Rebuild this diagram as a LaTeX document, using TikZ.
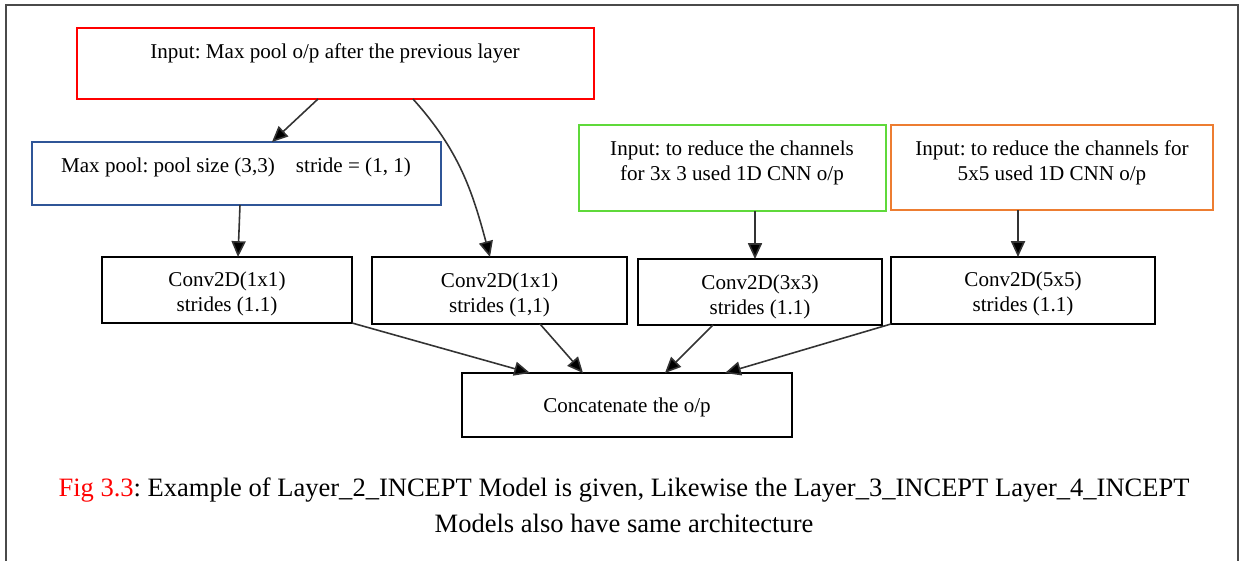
\documentclass[tikz,border=0pt]{standalone}
\usepackage{fontspec}
\setmainfont{Liberation Serif}
\usetikzlibrary{arrows.meta}
\frenchspacing
\definecolor{cred}{HTML}{FF0000}
\definecolor{cblue}{HTML}{2F5597}
\definecolor{cgreen}{HTML}{5FD93A}
\definecolor{corange}{HTML}{ED7D31}
\definecolor{cline}{HTML}{333333}
\definecolor{cframe}{HTML}{4A4A4A}
\tikzset{
  pbox/.style 2 args={draw, rectangle, inner sep=0pt, outer sep=0pt, line width=1pt,
    minimum width=#1*0.02cm, minimum height=#2*0.02cm},
  lbl/.style={font=\fontsize{12}{14.2}\selectfont, align=center, inner sep=0pt},
  arr/.style={draw=cline, line width=0.9pt, -{Triangle[length=9pt,width=8pt,fill=black]}},
}
\begin{document}
\begin{tikzpicture}[x=0.02cm,y=-0.02cm]
\useasboundingbox (0,0) rectangle (1244,561);
\draw[cframe, line width=1.1pt] (6,561) -- (6,5) -- (1238,5) -- (1238,561);
% boxes
\node[pbox={517}{71}, draw=cred] (inp) at (335.5,63.5) {};
\node[pbox={409}{63}, draw=cblue] (mp) at (236.5,173.5) {};
\node[pbox={307}{86}, draw=cgreen] (r3) at (732.5,168) {};
\node[pbox={322}{85}, draw=corange] (r5) at (1052,167.5) {};
\node[pbox={250}{66}, draw=black] (c1) at (227,290) {};
\node[pbox={255}{67}, draw=black] (c2) at (499.5,290.5) {};
\node[pbox={244}{66}, draw=black] (c3) at (760,292) {};
\node[pbox={264}{67}, draw=black] (c5) at (1023,290.5) {};
\node[pbox={330}{64}, draw=black] (cat) at (627,405) {};
% texts
\node[lbl] (tinp) at (335,53) {Input: Max pool o/p after the previous layer};
\node[lbl] (tmp) at (236,167) {Max pool: pool size (3,3)\quad stride = (1, 1)};
\node[lbl] (tr3) at (732,163) {Input: to reduce the channels\\for 3x 3 used 1D CNN o/p};
\node[lbl] (tr5) at (1052,163) {Input: to reduce the channels for\\5x5 used 1D CNN o/p};
\node[lbl] (tc1) at (227,294) {Conv2D(1x1)\\strides (1.1)};
\node[lbl] (tc2) at (499.5,294.5) {Conv2D(1x1)\\strides (1,1)};
\node[lbl] (tc3) at (760,296.5) {Conv2D(3x3)\\strides (1.1)};
\node[lbl] (tc5) at (1023,294) {Conv2D(5x5)\\strides (1.1)};
\node[lbl] (tcat) at (627,407) {Concatenate the o/p};
% connectors
\draw[arr] ([xshift=-0.35cm]inp.south) -- ([xshift=0.71cm]mp.north);
\draw[arr] ([xshift=1.55cm]inp.south) to[out=-48,in=105] ([xshift=-0.19cm]c2.north);
\draw[arr] ([xshift=0.07cm]mp.south) -- ([xshift=0.22cm]c1.north);
\draw[arr] ([xshift=0.45cm]r3.south) -- ([xshift=-0.1cm]c3.north);
\draw[arr] ([xshift=-0.68cm]r5.south) -- ([xshift=-0.1cm]c5.north);
\draw[arr] (c1.south east) -- ([xshift=-1.94cm]cat.north);
\draw[arr] ([xshift=0.81cm]c2.south) -- ([xshift=-0.88cm]cat.north);
\draw[arr] ([xshift=-0.94cm]c3.south) -- ([xshift=0.76cm]cat.north);
\draw[arr] (c5.south west) -- ([xshift=1.96cm]cat.north);
% caption
\node[font=\fontsize{15.1}{19}\selectfont, inner sep=0pt] (cap1) at (624,490) {\textcolor{cred}{Fig 3.3}: Example of Layer\_2\_INCEPT Model is given, Likewise the Layer\_3\_INCEPT Layer\_4\_INCEPT};
\node[font=\fontsize{15.1}{19}\selectfont, inner sep=0pt] (cap2) at (624,523) {Models also have same architecture};
\end{tikzpicture}
\end{document}
